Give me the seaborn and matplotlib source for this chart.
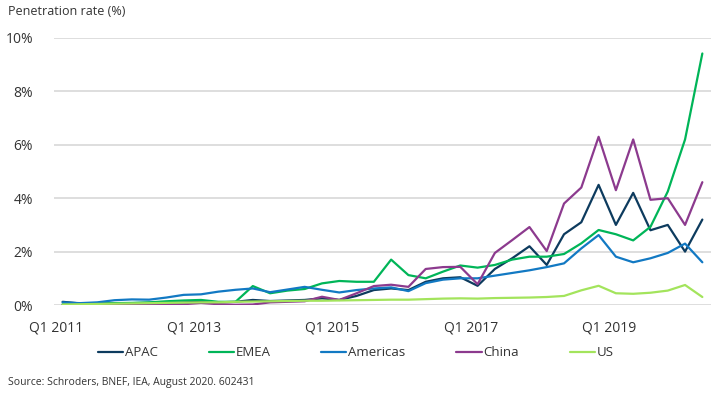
import pandas as pd
import matplotlib.pyplot as plt
import seaborn as sns

# Quarterly penetration rate (%), Q1 2011 - Q2 2020
quarters = [f"Q{q} {y}" for y in range(2011, 2021) for q in range(1, 5)][:38]

apac = [0.12, 0.06, 0.06, 0.06, 0.07, 0.08, 0.08, 0.10, 0.12, 0.10,
        0.12, 0.19, 0.15, 0.17, 0.19, 0.25, 0.19, 0.34, 0.56, 0.62,
        0.56, 0.87, 1.00, 1.04, 0.72, 1.35, 1.75, 2.20, 1.50, 2.65,
        3.10, 4.50, 3.00, 4.20, 2.80, 3.00, 2.00, 3.20]
emea = [0.03, 0.04, 0.05, 0.07, 0.08, 0.10, 0.14, 0.17, 0.19, 0.12,
        0.12, 0.71, 0.44, 0.54, 0.60, 0.81, 0.90, 0.87, 0.87, 1.70,
        1.12, 1.00, 1.25, 1.48, 1.40, 1.50, 1.70, 1.81, 1.81, 1.91,
        2.31, 2.81, 2.65, 2.42, 2.93, 4.25, 6.20, 9.42]
americas = [0.10, 0.07, 0.10, 0.18, 0.21, 0.20, 0.28, 0.38, 0.40, 0.50,
            0.57, 0.62, 0.48, 0.58, 0.68, 0.57, 0.47, 0.56, 0.62, 0.66,
            0.52, 0.82, 0.95, 1.00, 1.00, 1.10, 1.20, 1.30, 1.42, 1.56,
            2.12, 2.62, 1.81, 1.60, 1.75, 1.95, 2.30, 1.60]
china = [0.00, 0.00, 0.00, 0.00, 0.00, 0.01, 0.02, 0.03, 0.08, 0.03,
         0.01, 0.02, 0.10, 0.12, 0.14, 0.31, 0.19, 0.44, 0.71, 0.76,
         0.68, 1.35, 1.42, 1.43, 0.78, 1.95, 2.43, 2.92, 2.02, 3.80,
         4.40, 6.30, 4.30, 6.20, 3.94, 4.00, 3.00, 4.60]
us = [0.02, 0.03, 0.04, 0.05, 0.06, 0.07, 0.08, 0.09, 0.10, 0.10,
      0.12, 0.13, 0.14, 0.15, 0.16, 0.16, 0.17, 0.18, 0.19, 0.20,
      0.20, 0.22, 0.24, 0.25, 0.24, 0.26, 0.27, 0.28, 0.30, 0.34,
      0.55, 0.72, 0.44, 0.42, 0.46, 0.54, 0.75, 0.30]

regions = ["APAC", "EMEA", "Americas", "China", "US"]
colors = ["#0d3b5e", "#00b558", "#1279c3", "#8c3a8e", "#a3e45c"]
tick_labels = ["Q1 2011", "Q1 2013", "Q1 2015", "Q1 2017", "Q1 2019"]

series = dict(zip(regions, [apac, emea, americas, china, us]))
df = pd.concat([pd.DataFrame({"idx": range(len(quarters)), "quarter": quarters,
                              "region": r, "rate": v}) for r, v in series.items()])

sns.set_theme(style="white")
plt.rcParams["font.family"] = ["Open Sans", "DejaVu Sans"]

fig = plt.figure(figsize=(7.16, 3.97), dpi=100)
ax = fig.add_axes([0.0754, 0.2317, 0.9176, 0.6726])

sns.lineplot(data=df, x="idx", y="rate", hue="region", hue_order=regions,
             palette=dict(zip(regions, colors)), sort=False, linewidth=1.6,
             ax=ax, legend=True)

ax.set_xlim(-0.5, len(quarters) - 0.5)
ax.set_ylim(0, 10)
ax.set_yticks(range(0, 11, 2))
ax.set_yticklabels([f"{v}%" for v in range(0, 11, 2)])
tick_idx = [quarters.index(t) for t in tick_labels]
ax.set_xticks([i - 0.4 for i in tick_idx])
ax.set_xticklabels(tick_labels)
ax.set_xlabel("")
ax.set_ylabel("")
ax.grid(axis="y", color="#d4d4d4", linewidth=1.1)
ax.set_axisbelow(True)
for s in ax.spines.values():
    s.set_visible(False)
ax.tick_params(axis="both", length=0, labelsize=10, colors="#333333")
ax.tick_params(axis="x", pad=11)
ax.tick_params(axis="y", pad=15)

handles, labels = ax.get_legend_handles_labels()
ax.legend(handles, labels, loc="center", bbox_to_anchor=(0.497, 0.111),
          bbox_transform=fig.transFigure, ncol=5, frameon=False, fontsize=9.5,
          handlelength=1.9, handletextpad=0.15, columnspacing=3.85,
          labelcolor="#333333")

fig.text(0.011, 0.97, "Penetration rate (%)", fontsize=9, color="#333333", va="center")
fig.text(0.011, 0.036, "Source: Schroders, BNEF, IEA, August 2020. 602431",
         fontsize=7.5, color="#333333", va="center")

fig.savefig("out.png", dpi=100)
